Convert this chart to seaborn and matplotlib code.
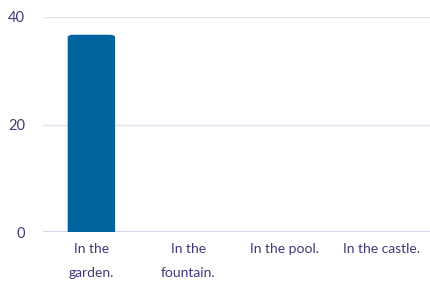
import pandas as pd
import matplotlib.pyplot as plt
import seaborn as sns
from matplotlib.patches import FancyBboxPatch

categories = ['In the\ngarden.', 'In the\nfountain.', 'In the pool.', 'In the castle.']
values = [36.7, 0, 0, 0]
y_ticks = [0, 20, 40]

text_color = '#3d3a78'
grid_color = '#e2e2f0'
base_color = '#cfcfe8'
bar_color = '#02649e'

sns.set_theme(style='white')
plt.rcParams['font.family'] = ['Lato', 'DejaVu Sans']

df = pd.DataFrame({'answer': categories, 'count': values})

fig = plt.figure(figsize=(4.3, 2.83), dpi=100)
ax = fig.add_axes([0.1, 0.18, 0.9, 0.76])
sns.barplot(data=df, x='answer', y='count', color=bar_color, width=0.49,
            saturation=1, ax=ax)

# swap the plain bars for ones with rounded corners
for p in list(ax.patches):
    x, y = p.get_x(), p.get_y()
    w, h = p.get_width(), p.get_height()
    if h <= 0:
        p.remove()
        continue
    r = 0.06
    rounded = FancyBboxPatch((x + r, y), w - 2 * r, h - r * 8,
                             boxstyle=f'round,pad={r}', mutation_aspect=8,
                             facecolor=bar_color, edgecolor='none', zorder=3)
    p.remove()
    ax.add_patch(rounded)

ax.set_ylim(0, 40)
ax.set_xlim(-0.5, 3.5)
ax.set_yticks(y_ticks)
ax.yaxis.grid(True, color=grid_color, linewidth=1)
ax.axhline(0, color=base_color, linewidth=1.2, zorder=1)
ax.set_axisbelow(True)
for s in ax.spines.values():
    s.set_visible(False)
ax.set_xlabel('')
ax.set_ylabel('')
ax.tick_params(axis='y', length=0, pad=13, labelsize=10.5, labelcolor=text_color)
ax.tick_params(axis='x', length=0, pad=8, labelsize=10, labelcolor=text_color)
for lbl in ax.get_xticklabels():
    lbl.set_linespacing(2.15)
    lbl.set_verticalalignment('top')

fig.savefig('out.png', dpi=100)
